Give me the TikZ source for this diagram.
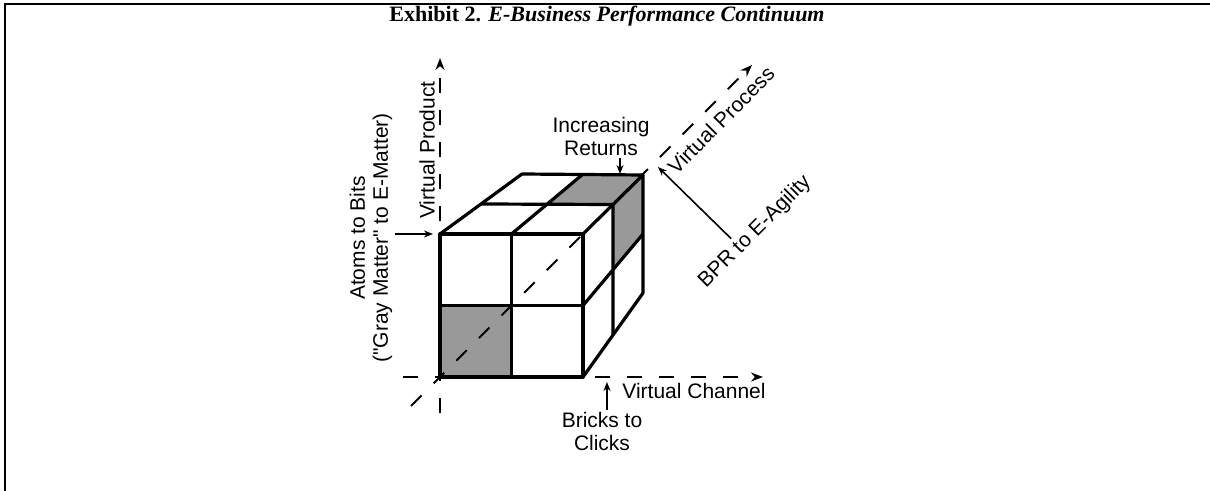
\documentclass[tikz,border=0pt]{standalone}
\usepackage{fontspec}
\newfontfamily\lblfont{Liberation Sans}
\newfontfamily\titlefont{Liberation Serif}
\usepackage{tikz}
\usetikzlibrary{positioning, calc, arrows.meta}
\tikzset{
  edgeline/.style={line width=1.6pt, line join=round},
  axisline/.style={line width=1pt, dash pattern=on 7.5pt off 8.5pt, -{Stealth[length=6pt,width=4.5pt]}},
  lblarrow/.style={line width=0.8pt, -{Stealth[length=4.5pt,width=3.5pt]}},
  grayfill/.style={fill=black!40},
  lbl/.style={font=\lblfont\fontsize{10.5}{11.5}\selectfont, inner sep=1pt, align=center},
}

\begin{document}
\begin{tikzpicture}[x=0.5pt, y=-0.5pt]
\useasboundingbox (0,0) rectangle (1210,491);
\draw[line width=1pt] (1210,4) -- (5,4) -- (5,491);
\node[font=\titlefont\fontsize{11}{12}\selectfont\bfseries] (title) at (607,16) {Exhibit 2. \textit{E-Business Performance Continuum}};

\coordinate (fbl) at (440,377);
\coordinate (fbr) at (583,377);
\coordinate (ftr) at (583,234);
\coordinate (ftl) at (440,234);
\coordinate (btl) at (522,174);
\coordinate (btr) at (643,175);
\coordinate (bbr) at (643,293);
\coordinate (fbm) at ($(fbl)!0.5!(fbr)$);
\coordinate (ftm) at ($(ftl)!0.5!(ftr)$);
\coordinate (flm) at ($(fbl)!0.5!(ftl)$);
\coordinate (frm) at ($(fbr)!0.5!(ftr)$);
\coordinate (fc) at ($(flm)!0.5!(frm)$);
\coordinate (tlm) at ($(ftl)!0.5!(btl)$);
\coordinate (trm) at ($(ftr)!0.5!(btr)$);
\coordinate (tbm) at ($(btl)!0.5!(btr)$);
\coordinate (tc) at ($(tlm)!0.5!(trm)$);
\coordinate (rbm) at ($(btr)!0.5!(bbr)$);
\coordinate (rdm) at ($(fbr)!0.5!(bbr)$);
\coordinate (rc) at ($(frm)!0.5!(rbm)$);

\fill[grayfill] (fbl) -- (fbm) -- (fc) -- (flm) -- cycle;
\fill[grayfill] (tc) -- (trm) -- (btr) -- (tbm) -- cycle;
\fill[grayfill] (trm) -- (btr) -- (rbm) -- (rc) -- cycle;

\coordinate (chan_start) at (403,377);
\coordinate (chan_end) at (763,377);
\coordinate (prod_start) at (440,413);
\coordinate (prod_end) at (440,58);
\coordinate (proc_start) at (411,406);
\coordinate (proc_end) at (752,65);
\draw[axisline] (chan_start) -- (chan_end);
\draw[axisline] (prod_start) -- (prod_end);
\draw[axisline] (proc_start) -- (proc_end);

\draw[edgeline] (fbl) rectangle (ftr);
\draw[edgeline] (fbm) -- (ftm) (flm) -- (frm);
\draw[edgeline] (ftl) -- (btl) -- (btr) -- (ftr);
\draw[edgeline] (tlm) -- (trm) (ftm) -- (tbm);
\draw[edgeline] (btr) -- (bbr) -- (fbr);
\draw[edgeline] (trm) -- (rdm) (frm) -- (rbm);

\node[lbl, rotate=90] (vprod) at (427,150) {Virtual Product};
\node[lbl, rotate=90] (atoms) at (371,238) {Atoms to Bits\\("Gray Matter" to E-Matter)};
\draw[lblarrow, shorten >=3.5pt] (atoms.south |- ftl) -- (ftl);

\coordinate (ret_tip) at (620,174);
\node[lbl, above=8pt of ret_tip, xshift=-9.5pt] (incret) {Increasing\\Returns};
\draw[lblarrow] (incret.south -| ret_tip) -- (ret_tip);

\node[lbl, anchor=west] (vchan) at (620,391) {Virtual Channel};
\coordinate (bricks_tip) at (607,382);
\node[lbl, below=14pt of bricks_tip, xshift=-2.5pt] (bricks) {Bricks to\\Clicks};
\draw[lblarrow] (bricks.north -| bricks_tip) -- (bricks_tip);

\node[lbl, rotate=45] (vproc) at (721,120) {Virtual Process};
\node[lbl, rotate=45] (bpr) at (755,232) {BPR to E-Agility};
\coordinate (bpr_tip) at (658,167);
\draw[lblarrow] ($(bpr.north)!0.28!(bpr.north west)$) -- (bpr_tip);
\end{tikzpicture}
\end{document}
